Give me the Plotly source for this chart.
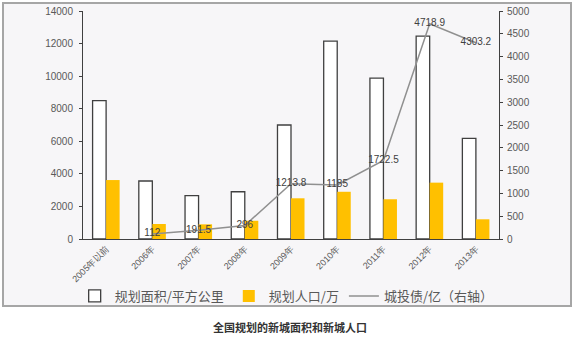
import plotly.graph_objects as go

categories = ["2005年以前", "2006年", "2007年", "2008年", "2009年", "2010年", "2011年", "2012年", "2013年"]
area = [8500, 3560, 2660, 2900, 7000, 12150, 9880, 12460, 6180]
population = [3620, 920, 900, 1120, 2500, 2900, 2440, 3460, 1210]
debt = [None, 112, 191.5, 296, 1213.8, 1185, 1722.5, 4718.9, 4303.2]
debt_labels = ["" if v is None else ("%g" % v) for v in debt]

fig = go.Figure()
fig.add_trace(go.Bar(
    x=categories, y=area, name="规划面积/平方公里",
    marker=dict(color="white", line=dict(color="#404040", width=1.3)),
))
fig.add_trace(go.Bar(
    x=categories, y=population, name="规划人口/万",
    marker=dict(color="#FFC000", line=dict(width=0)),
))
fig.add_trace(go.Scatter(
    x=categories, y=debt, name="城投债/亿（右轴）", yaxis="y2",
    mode="lines+text", text=debt_labels, textposition="middle center",
    textfont=dict(size=10, color="#404040", family="Liberation Sans"),
    line=dict(color="#909090", width=1.5), connectgaps=False,
))

tickfont = dict(size=9, color="#595959", family="Liberation Sans")
ytickfont = dict(size=10, color="#595959", family="Liberation Sans")

fig.update_layout(
    width=575, height=341,
    margin=dict(l=83, r=76, t=11, b=102, autoexpand=False),
    paper_bgcolor="white",
    plot_bgcolor="rgba(0,0,0,0)",
    barmode="group", bargap=0.415, bargroupgap=0,
    showlegend=True,
    legend=dict(orientation="h", x=-0.02, xanchor="left",
                y=-0.25, yanchor="middle",
                font=dict(size=13, color="#595959", family="Noto Sans CJK SC"),
                bgcolor="rgba(0,0,0,0)", itemwidth=30, tracegroupgap=0),
    xaxis=dict(tickangle=-45, tickfont=tickfont, showline=True, linecolor="#404040",
               linewidth=1, ticks="", showgrid=False, mirror=False),
    yaxis=dict(range=[0, 14000], dtick=2000, tickformat="d", tickfont=ytickfont,
               showline=True, linecolor="#404040", linewidth=1, ticks="outside", ticklen=3,
               tickcolor="#404040", showgrid=False, zeroline=False, ticklabelstandoff=4),
    yaxis2=dict(range=[0, 5000], dtick=500, tickformat="d", overlaying="y", side="right",
                tickfont=ytickfont,
                showline=True, linecolor="#404040", linewidth=1, ticks="outside", ticklen=3,
                tickcolor="#404040", showgrid=False, zeroline=False, ticklabelstandoff=2),
    shapes=[dict(type="rect", xref="paper", yref="paper",
                 x0=(3 - 83) / 416, x1=(571 - 83) / 416,
                 y0=(239 - 306) / 228, y1=(239 - 3) / 228,
                 fillcolor="#f7f6f8", line=dict(color="#a6a6a6", width=2), layer="below")],
    annotations=[dict(text="<b>全国规划的新城面积和新城人口</b>", xref="paper", yref="paper",
                      x=(290 - 83) / 416, y=(239 - 327) / 228, xanchor="center", yanchor="middle",
                      showarrow=False,
                      font=dict(size=11, color="#333333", family="Noto Sans CJK SC"))],
)

fig.write_html("out.html")
